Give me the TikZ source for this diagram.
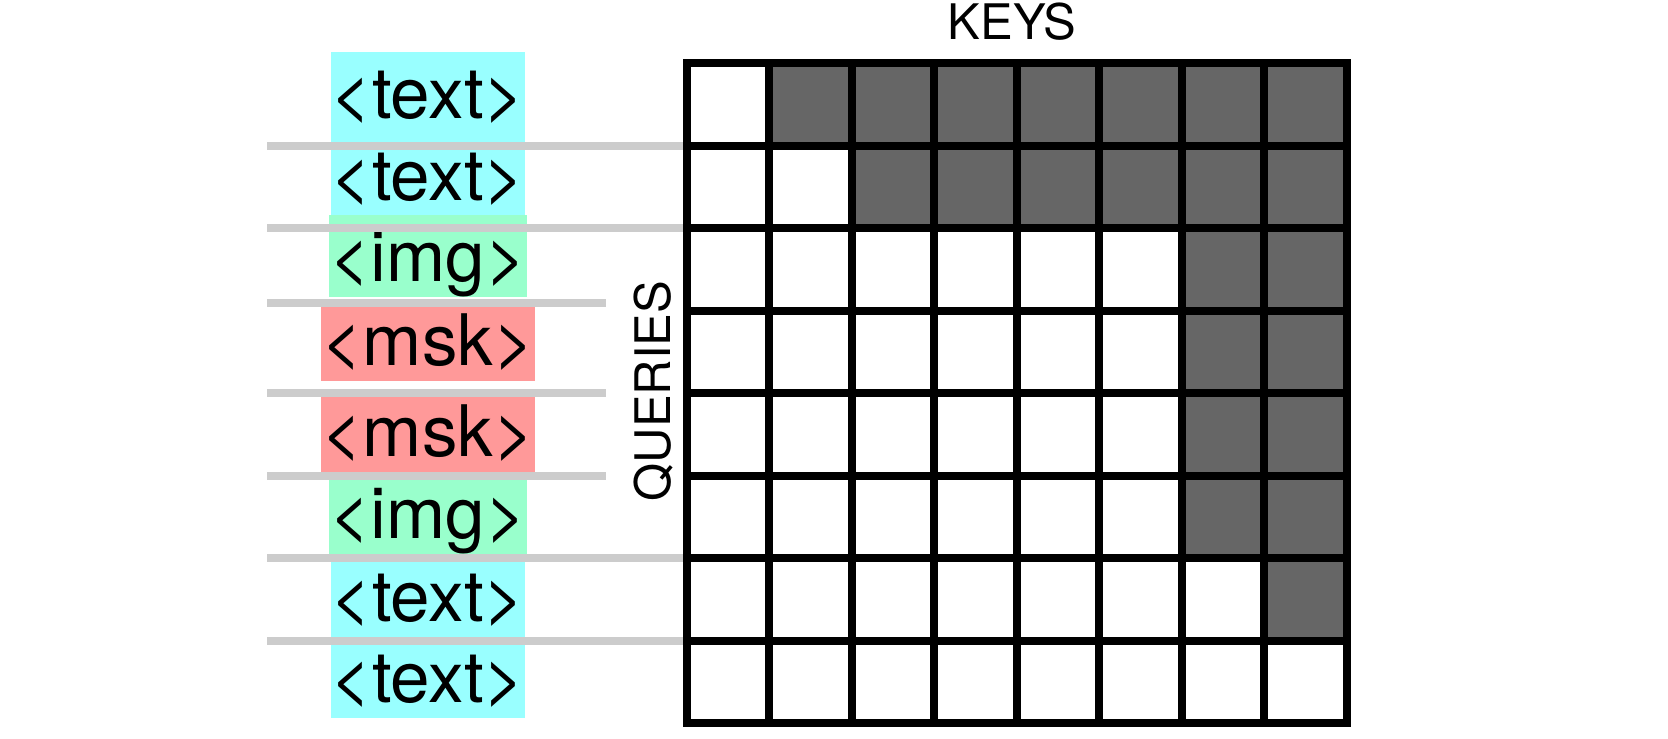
\documentclass[tikz,border=0pt]{standalone}
\usepackage{fontspec}
\setmainfont{TeX Gyre Heros}
\usetikzlibrary{positioning}

\begin{document}
\begin{tikzpicture}[
    tok/.style={inner sep=0pt, anchor=base, text height=0.8cm, text depth=0.194cm,
                font=\fontsize{24.5}{28}\selectfont},
    axis label/.style={inner sep=0pt, anchor=base, font=\fontsize{16.9}{20}\selectfont},
    sep line/.style={line width=2.76pt, sepgray}]
    % Define consistent colors
    \definecolor{textcolor}{RGB}{153,255,255}
    \definecolor{imgcolor}{RGB}{153,255,204}
    \definecolor{mskcolor}{RGB}{255,153,153}
    \definecolor{maskedcolor}{RGB}{102,102,102}
    \definecolor{sepgray}{RGB}{204,204,204}

    \useasboundingbox (-8.327,0.764) rectangle (11.891,-8.182);

    % Token labels
    \node[tok, fill=textcolor] (tok1) at (-3.139,-0.667) {<text>};
    \node[tok, fill=textcolor] (tok2) at (-3.139,-1.661) {<text>};
    \node[tok, fill=imgcolor]  (tok3) at (-3.139,-2.642) {<img>};
    \node[tok, fill=mskcolor]  (tok4) at (-3.139,-3.661) {<msk>};
    \node[tok, fill=mskcolor]  (tok5) at (-3.139,-4.764) {<msk>};
    \node[tok, fill=imgcolor]  (tok6) at (-3.139,-5.758) {<img>};
    \node[tok, fill=textcolor] (tok7) at (-3.139,-6.764) {<text>};
    \node[tok, fill=textcolor] (tok8) at (-3.139,-7.745) {<text>};

    % Separators between tokens
    \draw[sep line] (-5.09,-1.006) -- (0,-1.006);
    \draw[sep line] (-5.09,-2.0) -- (0,-2.0);
    \draw[sep line] (-5.09,-2.909) -- (-0.982,-2.909);
    \draw[sep line] (-5.09,-4.0) -- (-0.982,-4.0);
    \draw[sep line] (-5.09,-5.006) -- (-0.982,-5.006);
    \draw[sep line] (-5.09,-6.0) -- (0,-6.0);
    \draw[sep line] (-5.09,-7.006) -- (0,-7.006);

    % Masked cells
    \foreach \r/\c in {0/1,1/2,2/6,3/6,4/6,5/6,6/7}
        \fill[maskedcolor] (\c,-\r) rectangle (8,-\r-1);

    % Attention grid
    \draw[line width=2.76pt] (0,-8) grid (8,0);
    \draw[line width=2.76pt, line join=miter] (0,0) rectangle (8,-8);

    % Axis labels
    \node[axis label] (keys) at (3.94,0.291) {KEYS};
    \node[axis label, rotate=90] (queries) at (-0.194,-3.976) {QUERIES};
\end{tikzpicture}
\end{document}
